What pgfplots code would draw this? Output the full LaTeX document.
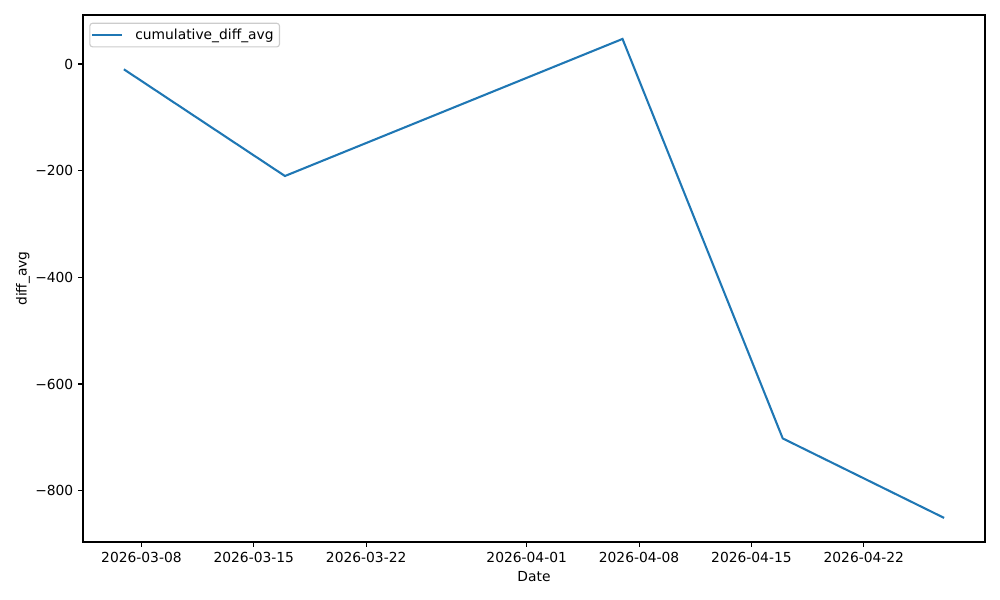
\documentclass[border=0pt]{standalone}
\usepackage{fontspec}
\setmainfont{DejaVu Sans}
\usepackage{pgfplots}
\pgfplotsset{compat=1.18}
\definecolor{mplblue}{HTML}{1F77B4}
\definecolor{legframe}{HTML}{CCCCCC}
\begin{document}
\begin{tikzpicture}
\path[use as bounding box] (0,0) rectangle (25.4cm,15.24cm);
\begin{axis}[
  at={(2.1082cm,1.4732cm)}, anchor=south west,
  scale only axis,
  width=22.9108cm, height=13.3858cm,
  xmin=-3.64, xmax=52.55,
  ymin=-896.2, ymax=91.9,
  axis line style={line width=0.8pt},
  tick style={black, line width=0.8pt},
  major tick length=3.5pt,
  tick align=outside,
  xtick pos=bottom, ytick pos=left,
  xtick={0,7,14,24,31,38,45},
  xticklabels={2026-03-08,2026-03-15,2026-03-22,2026-04-01,2026-04-08,2026-04-15,2026-04-22},
  ytick={-800,-600,-400,-200,0},
  yticklabels={−800,−600,−400,−200,0},
  /pgf/number format/assume math mode=true,
  xlabel={Date},
  ylabel={diff\_avg},
  ylabel style={yshift=-3pt},
  legend style={at={(0.007,0.9854)}, anchor=north west, draw=legframe, rounded corners=2pt, line width=0.8pt,
    inner xsep=1pt, inner ysep=2pt, nodes={inner xsep=3.2pt},
    /tikz/every odd column/.append style={column sep=5.5pt},
    font=\fontsize{10}{12}\selectfont},
  legend cell align=left,
  legend image code/.code={\draw[#1] (0cm,0cm) -- (0.76cm,0cm);},
]
\addplot[mplblue, line width=1.5pt] coordinates {
  (-1.09,-10)
  (8.94,-210)
  (29.97,47)
  (39.95,-702)
  (50.0,-851)
};
\addlegendentry{cumulative\_diff\_avg}
\end{axis}
\end{tikzpicture}
\end{document}
